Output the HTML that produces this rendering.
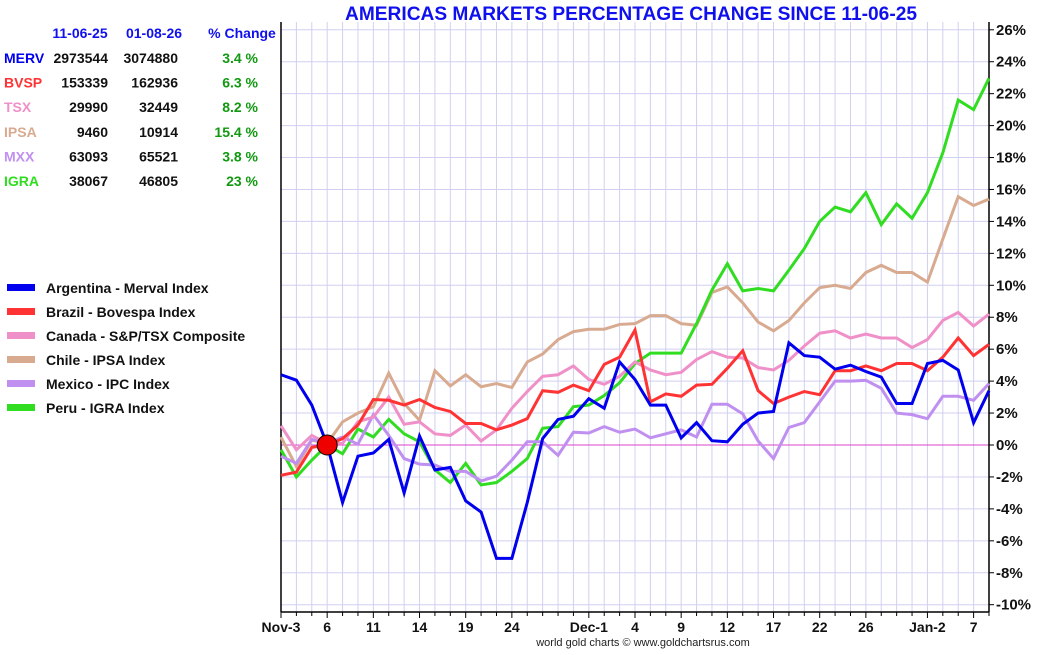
<!DOCTYPE html>
<html><head><meta charset="utf-8"><style>
body{margin:0;background:#fff;font-family:"Liberation Sans",Arial,sans-serif}
svg text{font-family:"Liberation Sans",Arial,sans-serif}
</style></head><body>
<svg id="c" width="1050" height="650" xmlns="http://www.w3.org/2000/svg">
<rect width="1050" height="650" fill="#fff"/>
<text x="631" y="20" text-anchor="middle" font-size="19" font-weight="bold" fill="#1010ee" textLength="572" lengthAdjust="spacingAndGlyphs">AMERICAS MARKETS PERCENTAGE CHANGE SINCE 11-06-25</text>
<g id="grid"></g>
<g id="axes"></g>
<g id="series"></g>
<g id="table"></g>
<g id="legend"></g>
<text x="643" y="646" text-anchor="middle" font-size="11" fill="#222">world gold charts © www.goldchartsrus.com</text>
</svg>
<script>
const merval=[4.4,4.06,2.5,0,-3.6,-0.7,-0.5,0.35,-3.0,0.56,-1.56,-1.4,-3.5,-4.2,-7.1,-7.1,-3.6,0.4,1.6,1.8,2.9,2.3,5.2,4.1,2.5,2.5,0.44,1.4,0.27,0.2,1.3,2.0,2.1,6.4,5.6,5.5,4.75,5.0,4.6,4.25,2.6,2.6,5.1,5.3,4.7,1.4,3.4];
const bovespa=[-1.9,-1.7,-0.15,0,0.4,1.25,2.85,2.8,2.5,2.85,2.35,2.1,1.35,1.35,0.95,1.25,1.65,3.4,3.3,3.75,3.4,5.05,5.5,7.2,2.7,3.2,3.05,3.75,3.8,4.8,5.9,3.4,2.6,3.0,3.35,3.15,4.65,4.65,4.95,4.65,5.1,5.1,4.65,5.5,6.7,5.6,6.3];
const tsx=[1.2,-0.3,0.6,0.1,0.1,1.45,1.75,3.0,1.3,1.45,0.7,0.6,1.25,0.25,0.95,2.3,3.35,4.3,4.4,4.95,4.1,3.8,4.3,5.2,4.7,4.4,4.55,5.35,5.85,5.5,5.45,4.85,4.7,5.3,6.2,7.0,7.15,6.7,6.95,6.7,6.7,6.1,6.6,7.8,8.3,7.45,8.2];
const ipsa=[0.5,-1.35,0.3,0.1,1.45,2.0,2.4,4.5,2.6,1.55,4.65,3.7,4.4,3.65,3.85,3.6,5.2,5.7,6.6,7.1,7.25,7.25,7.55,7.6,8.1,8.1,7.6,7.5,9.55,9.9,8.9,7.7,7.15,7.8,8.9,9.85,10.0,9.8,10.8,11.25,10.8,10.8,10.2,12.9,15.55,15.0,15.4];
const ipc=[-0.7,-1.15,0.35,0.1,0.5,0.05,1.9,0.6,-0.85,-1.2,-1.25,-1.65,-1.65,-2.25,-1.95,-0.95,0.2,0.2,-0.65,0.8,0.75,1.15,0.8,1.0,0.45,0.7,0.95,0.5,2.55,2.55,1.95,0.25,-0.85,1.1,1.4,2.7,4.0,4.0,4.05,3.55,2.0,1.9,1.65,3.05,3.05,2.8,3.85];
const igra=[-0.3,-2.0,-0.95,0,-0.55,1.0,0.5,1.6,0.7,0.2,-1.55,-2.35,-1.15,-2.5,-2.35,-1.65,-0.85,1.05,1.15,2.4,2.5,3.1,3.9,5.1,5.75,5.75,5.75,7.6,9.7,11.35,9.65,9.8,9.65,10.95,12.3,14.0,14.9,14.6,15.8,13.8,15.1,14.2,15.8,18.3,21.6,21.0,22.96];
const xLabels=["Nov-3","6","11","14","19","24","Dec-1","4","9","12","17","22","26","Jan-2","7"];
const xLabelIdx=[0,3,6,9,12,15,20,23,26,29,32,35,38,42,45];
const yTicks=[-10,-8,-6,-4,-2,0,2,4,6,8,10,12,14,16,18,20,22,24,26];
const tableRows=[["MERV","2973544","3074880","3.4 %","#0000ee"],["BVSP","153339","162936","6.3 %","#ff3333"],["TSX","29990","32449","8.2 %","#f090c8"],["IPSA","9460","10914","15.4 %","#d8aa90"],["MXX","63093","65521","3.8 %","#c090f0"],["IGRA","38067","46805","23 %","#30dd20"]];
const legendNames=["Argentina - Merval Index","Brazil - Bovespa Index","Canada - S&P/TSX Composite","Chile - IPSA Index","Mexico - IPC Index","Peru - IGRA Index"];
const NS="http://www.w3.org/2000/svg";
const X0=281,X1=989,N=47,Y0=445,PPU=15.97;
const sx=i=>X0+i*(X1-X0)/(N-1);
const sy=v=>Y0-v*PPU;
function mk(tag,attrs,parent,txt){const e=document.createElementNS(NS,tag);for(const k in attrs)e.setAttribute(k,attrs[k]);if(txt!==undefined)e.textContent=txt;parent.appendChild(e);return e;}
const grid=document.getElementById('grid'),axes=document.getElementById('axes'),ser=document.getElementById('series');
for(let i=1;i<N;i++){const l=mk('line',{x1:sx(i),x2:sx(i),y1:22,y2:612,stroke:'#d0d0f0','stroke-width':1},grid);

}
yTicks.forEach(v=>{const l=mk('line',{x1:X0,x2:X1,y1:sy(v),y2:sy(v),stroke:v===0?'#dd44cc':'#d0d0f0','stroke-width':1},grid);


const t=mk('line',{x1:X1,x2:X1+5,y1:sy(v),y2:sy(v),stroke:'#000'},axes);


const tx=mk('text',{x:996,y:sy(v)+5,'font-size':15,'font-weight':'bold',fill:'#111'},axes,v+'%');

});
const la=mk('line',{x1:X0,x2:X0,y1:22,y2:612,stroke:'#000','stroke-width':1.5},axes);


const ra=mk('line',{x1:X1,x2:X1,y1:22,y2:612,stroke:'#000','stroke-width':1.5},axes);


const ba=mk('line',{x1:X0,x2:X1,y1:612,y2:612,stroke:'#000','stroke-width':1.5},axes);


for(let i=0;i<N;i++){const t=mk('line',{x1:sx(i),x2:sx(i),y1:612,y2:xLabelIdx.includes(i)?618:616,stroke:'#000'},axes);

}
xLabels.forEach((s,k)=>{const t=mk('text',{x:sx(xLabelIdx[k]),y:632,'text-anchor':'middle','font-size':14,'font-weight':'bold',fill:'#111'},axes,s);

});
const series=[[merval,'#0000ee','merval-line'],[bovespa,'#ff3333','bovespa-line'],[tsx,'#f090c8','tsx-line'],[ipsa,'#d8aa90','ipsa-line'],[ipc,'#c090f0','ipc-line'],[igra,'#30dd20','igra-line']];
[3,5,4,2,1,0].forEach(k=>{const [d,c,n]=series[k];
const p=mk('polyline',{points:d.map((v,i)=>sx(i)+','+sy(v)).join(' '),fill:'none',stroke:c,'stroke-width':3,'stroke-linejoin':'miter'},ser);

});
const dot=mk('circle',{cx:sx(3),cy:sy(0),r:10,fill:'#ee0000',stroke:'#000','stroke-width':1},ser);


const tb=document.getElementById('table');
[["11-06-25",80],["01-08-26",154],["% Change",242]].forEach(([s,x])=>{const t=mk('text',{x:x,y:38,'text-anchor':'middle','font-size':14,'font-weight':'bold',fill:'#1010ee'},tb,s);

});
tableRows.forEach((r,k)=>{const y=63+k*24.6;
const a=mk('text',{x:4,y:y,'font-size':14,'font-weight':'bold',fill:r[4]},tb,r[0]);


const b=mk('text',{x:108,y:y,'text-anchor':'end','font-size':14,'font-weight':'bold',fill:'#111'},tb,r[1]);


const c=mk('text',{x:178,y:y,'text-anchor':'end','font-size':14,'font-weight':'bold',fill:'#111'},tb,r[2]);


const d=mk('text',{x:258,y:y,'text-anchor':'end','font-size':14,'font-weight':'bold',fill:'#119911'},tb,r[3]);

});
const lg=document.getElementById('legend');
legendNames.forEach((s,k)=>{const y=288+k*24;
const r=mk('rect',{x:7,y:y-4,width:28,height:7,fill:series[k][1]},lg);


const t=mk('text',{x:46,y:y+5,'font-size':14,'font-weight':'bold',fill:'#111'},lg,s);

});
</script>
</body></html>
